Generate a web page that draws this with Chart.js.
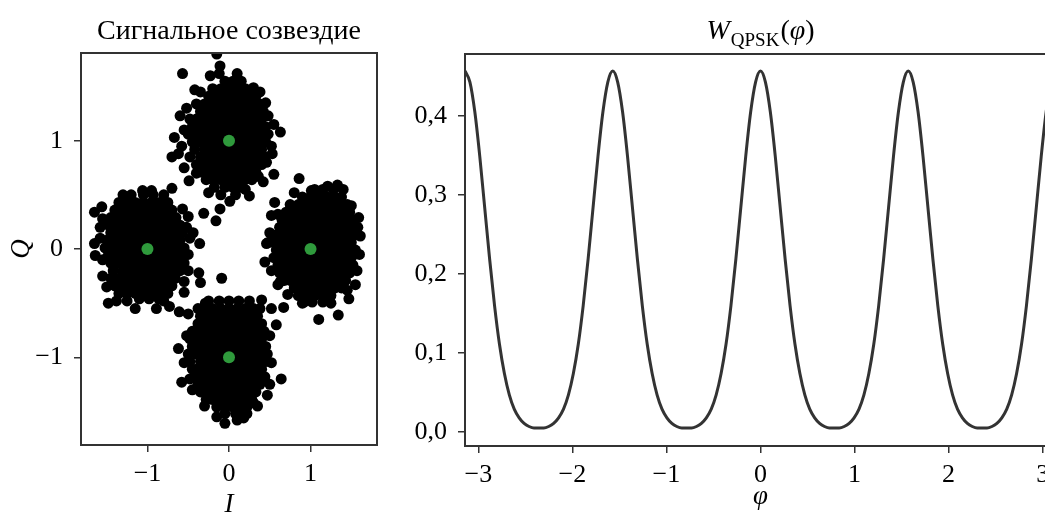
<!DOCTYPE html>
<html>
<head>
<meta charset="utf-8">
<script src="https://cdn.jsdelivr.net/npm/chart.js@4.4.1/dist/chart.umd.min.js"></script>
<style>
  html, body { margin: 0; padding: 0; background: #fff; overflow: hidden; width: 1045px; height: 515px; }
  #constellation { position: absolute; left: 0; top: 0; }
  #density { position: absolute; left: 400px; top: 0; }
</style>
</head>
<body>
<canvas id="constellation" width="400" height="515"></canvas>
<canvas id="density" width="680" height="515"></canvas>
<script>
// ---- Constellation: ideal QPSK symbols ----
const idealSymbols = [[1, 0], [0, 1], [-1, 0], [0, -1]];

// Received samples, dense core of each cloud, row by row: [Q, [I ...]]
const upperRows = [
  [1.55, [-0.05, 0.05, 0.15]],
  [1.48, [-0.20, -0.10, 0.00, 0.10, 0.20]],
  [1.41, [-0.25, -0.15, -0.05, 0.05, 0.15, 0.25, 0.33]],
  [1.34, [-0.40, -0.30, -0.20, -0.10, 0.00, 0.10, 0.20, 0.30, 0.38]],
  [1.27, [-0.35, -0.25, -0.15, -0.05, 0.05, 0.15, 0.25, 0.35, 0.42]],
  [1.20, [-0.48, -0.40, -0.30, -0.20, -0.10, 0.00, 0.10, 0.20, 0.30, 0.40]],
  [1.13, [-0.45, -0.35, -0.25, -0.15, -0.05, 0.05, 0.15, 0.25, 0.35, 0.45]],
  [1.06, [-0.50, -0.40, -0.30, -0.20, -0.10, 0.00, 0.10, 0.20, 0.30, 0.40, 0.48]],
  [0.99, [-0.45, -0.35, -0.25, -0.15, -0.05, 0.05, 0.15, 0.25, 0.35, 0.45]],
  [0.92, [-0.42, -0.30, -0.20, -0.10, 0.00, 0.10, 0.20, 0.30, 0.40]],
  [0.85, [-0.48, -0.35, -0.25, -0.15, -0.05, 0.05, 0.15, 0.25, 0.35, 0.44]],
  [0.78, [-0.40, -0.30, -0.20, -0.10, 0.00, 0.10, 0.20, 0.30, 0.40]],
  [0.71, [-0.35, -0.25, -0.15, -0.05, 0.05, 0.15, 0.25, 0.33]],
  [0.64, [-0.28, -0.20, -0.10, 0.00, 0.10, 0.20, 0.28]],
  [0.57, [-0.18, -0.05, 0.05, 0.15]],
  [0.50, [-0.10, 0.08]]
];
const leftRows = [
  [0.50, [-1.20, -1.05, -0.93]],
  [0.43, [-1.35, -1.25, -1.15, -1.05, -0.95, -0.85, -0.75]],
  [0.36, [-1.40, -1.30, -1.20, -1.10, -1.00, -0.90, -0.80, -0.70]],
  [0.29, [-1.45, -1.35, -1.25, -1.15, -1.05, -0.95, -0.85, -0.75, -0.65]],
  [0.22, [-1.48, -1.40, -1.30, -1.20, -1.10, -1.00, -0.90, -0.80, -0.70, -0.60]],
  [0.15, [-1.45, -1.35, -1.25, -1.15, -1.05, -0.95, -0.85, -0.75, -0.65, -0.57]],
  [0.08, [-1.50, -1.40, -1.30, -1.20, -1.10, -1.00, -0.90, -0.80, -0.70, -0.60]],
  [0.01, [-1.52, -1.45, -1.35, -1.25, -1.15, -1.05, -0.95, -0.85, -0.75, -0.65, -0.55]],
  [-0.06, [-1.48, -1.40, -1.30, -1.20, -1.10, -1.00, -0.90, -0.80, -0.70, -0.60]],
  [-0.13, [-1.45, -1.35, -1.25, -1.15, -1.05, -0.95, -0.85, -0.75, -0.65, -0.55]],
  [-0.20, [-1.42, -1.30, -1.20, -1.10, -1.00, -0.90, -0.80, -0.70, -0.60]],
  [-0.27, [-1.45, -1.35, -1.25, -1.15, -1.05, -0.95, -0.85, -0.75, -0.66]],
  [-0.34, [-1.40, -1.30, -1.20, -1.10, -1.00, -0.90, -0.80, -0.70]],
  [-0.41, [-1.35, -1.25, -1.15, -1.05, -0.95, -0.85, -0.75]],
  [-0.46, [-1.10, -0.98, -0.86]]
];
const rightRows = [
  [0.55, [1.05, 1.15, 1.28]],
  [0.48, [0.90, 1.00, 1.10, 1.20, 1.30, 1.38]],
  [0.41, [0.75, 0.85, 0.95, 1.05, 1.15, 1.25, 1.35, 1.45]],
  [0.34, [0.70, 0.80, 0.90, 1.00, 1.10, 1.20, 1.30, 1.40, 1.48]],
  [0.27, [0.65, 0.75, 0.85, 0.95, 1.05, 1.15, 1.25, 1.35, 1.45, 1.52]],
  [0.20, [0.62, 0.70, 0.80, 0.90, 1.00, 1.10, 1.20, 1.30, 1.40, 1.50]],
  [0.13, [0.58, 0.65, 0.75, 0.85, 0.95, 1.05, 1.15, 1.25, 1.35, 1.45, 1.54]],
  [0.06, [0.55, 0.60, 0.70, 0.80, 0.90, 1.00, 1.10, 1.20, 1.30, 1.40, 1.50]],
  [-0.01, [0.58, 0.65, 0.75, 0.85, 0.95, 1.05, 1.15, 1.25, 1.35, 1.45, 1.55]],
  [-0.08, [0.55, 0.62, 0.70, 0.80, 0.90, 1.00, 1.10, 1.20, 1.30, 1.40, 1.50]],
  [-0.15, [0.60, 0.65, 0.75, 0.85, 0.95, 1.05, 1.15, 1.25, 1.35, 1.45, 1.52]],
  [-0.22, [0.62, 0.70, 0.80, 0.90, 1.00, 1.10, 1.20, 1.30, 1.40, 1.48]],
  [-0.29, [0.68, 0.75, 0.85, 0.95, 1.05, 1.15, 1.25, 1.35, 1.43]],
  [-0.36, [0.80, 0.90, 1.00, 1.10, 1.20, 1.30, 1.38]],
  [-0.43, [0.85, 0.95, 1.05, 1.15, 1.25]],
  [-0.49, [0.92, 1.02, 1.15]]
];
const lowerRows = [
  [-0.48, [-0.25, -0.12, 0.00, 0.12, 0.25]],
  [-0.55, [-0.30, -0.20, -0.10, 0.00, 0.10, 0.20, 0.30]],
  [-0.62, [-0.35, -0.25, -0.15, -0.05, 0.05, 0.15, 0.25, 0.35]],
  [-0.69, [-0.38, -0.30, -0.20, -0.10, 0.00, 0.10, 0.20, 0.30, 0.40]],
  [-0.76, [-0.45, -0.35, -0.25, -0.15, -0.05, 0.05, 0.15, 0.25, 0.35, 0.43]],
  [-0.83, [-0.48, -0.40, -0.30, -0.20, -0.10, 0.00, 0.10, 0.20, 0.30, 0.40]],
  [-0.90, [-0.45, -0.35, -0.25, -0.15, -0.05, 0.05, 0.15, 0.25, 0.35, 0.45]],
  [-0.97, [-0.50, -0.40, -0.30, -0.20, -0.10, 0.00, 0.10, 0.20, 0.30, 0.40, 0.47]],
  [-1.04, [-0.48, -0.35, -0.25, -0.15, -0.05, 0.05, 0.15, 0.25, 0.35, 0.45]],
  [-1.11, [-0.45, -0.40, -0.30, -0.20, -0.10, 0.00, 0.10, 0.20, 0.30, 0.40]],
  [-1.18, [-0.42, -0.35, -0.25, -0.15, -0.05, 0.05, 0.15, 0.25, 0.35, 0.44]],
  [-1.25, [-0.38, -0.30, -0.20, -0.10, 0.00, 0.10, 0.20, 0.30, 0.38]],
  [-1.32, [-0.35, -0.25, -0.15, -0.05, 0.05, 0.15, 0.25, 0.33]],
  [-1.39, [-0.28, -0.20, -0.10, 0.00, 0.10, 0.20, 0.28]],
  [-1.46, [-0.15, -0.05, 0.05, 0.15, 0.22]],
  [-1.52, [-0.05, 0.08, 0.18]]
];

// Scattered samples around the clouds: [I, Q]
const upperStray = [
  [-0.15, 1.80], [-0.11, 1.69], [-0.57, 1.62], [-0.23, 1.60], [-0.42, 1.47], [0.30, 1.49],
  [-0.60, 1.23], [0.48, 1.23], [0.63, 1.08], [-0.67, 1.03], [-0.70, 0.85], [-0.62, 0.88],
  [0.46, 0.80], [0.55, 0.69], [-0.49, 0.63], [0.25, 0.49], [0.01, 0.44], [-0.31, 0.33],
  [-0.11, 0.37], [-0.16, 0.26], [0.36, 0.67], [-0.55, 0.75], [0.52, 0.95],
  [-0.52, 1.30], [0.45, 1.35], [-0.55, 1.10], [0.55, 1.15], [-0.40, 0.70], [0.42, 0.62],
  [-0.35, 1.45], [0.38, 1.45], [-0.58, 0.95], [0.53, 0.88], [0.20, 0.55], [-0.25, 0.52],
  [0.10, 1.62], [-0.12, 1.62]
];
const leftStray = [
  [-1.65, 0.34], [-1.56, 0.39], [-1.65, 0.05], [-1.64, -0.06], [-1.48, -0.50], [-1.38, -0.48],
  [-1.15, -0.55], [-0.89, -0.55], [-0.73, -0.53], [-0.61, -0.58], [-1.06, 0.54], [-0.95, 0.54],
  [-0.70, 0.56], [-0.57, 0.37], [-0.44, 0.15], [-0.36, 0.05], [-0.37, -0.22], [-0.35, -0.31],
  [-0.09, -0.27], [-0.52, 0.20], [-0.50, -0.05], [-0.55, -0.40], [-1.55, -0.25], [-1.58, 0.20],
  [-1.55, 0.28], [-1.58, 0.10], [-1.55, -0.10], [-1.50, -0.35], [-0.50, 0.30], [-0.48, 0.10],
  [-0.50, -0.20], [-0.55, -0.30], [-1.30, 0.50], [-0.80, 0.50], [-1.25, -0.48], [-0.80, -0.48]
];
const rightStray = [
  [0.86, 0.65], [1.01, 0.54], [1.21, 0.58], [0.56, 0.43], [1.59, 0.29], [1.61, 0.12],
  [0.52, 0.31], [0.46, 0.05], [0.44, -0.12], [1.55, -0.33], [1.47, -0.46], [1.10, -0.65],
  [1.34, -0.61], [0.67, -0.54], [0.60, -0.33], [0.63, -0.30], [0.48, 0.06], [1.40, 0.55], [1.33, 0.59],
  [1.58, 0.20], [1.60, -0.05], [1.57, -0.20], [1.50, 0.40], [0.52, -0.20], [0.50, 0.15],
  [0.60, 0.32], [0.72, -0.42], [1.45, -0.38], [0.80, 0.52], [1.25, -0.50], [0.90, -0.50]
];
const lowerStray = [
  [-0.05, -1.61], [0.18, -1.56], [-0.62, -0.92], [-0.58, -1.23], [0.64, -1.20], [0.58, -0.70],
  [0.52, -0.55], [0.40, -0.47], [-0.29, -0.50], [0.42, -0.92], [0.47, -1.35], [0.22, -1.52],
  [-0.50, -0.60], [0.35, -1.45], [-0.45, -1.30],
  [-0.52, -0.80], [0.50, -0.80], [-0.55, -1.05], [0.52, -1.05], [-0.48, -1.20], [0.50, -1.25],
  [-0.38, -0.55], [0.38, -0.55], [-0.30, -1.45], [0.30, -1.42], [-0.15, -1.55], [0.10, -1.58]
];

const iqTicks = [-1, 0, 1];

// ---- Phase density W_QPSK(phi) ----
const phiDeg = [
  -180, -177, -174, -171, -168, -165, -162, -159, -156, -153, -150, -147, -144, -141, -138,
  -135, -132, -129, -126, -123, -120, -117, -114, -111, -108, -105, -102, -99, -96, -93,
  -90, -87, -84, -81, -78, -75, -72, -69, -66, -63, -60, -57, -54, -51, -48,
  -45, -42, -39, -36, -33, -30, -27, -24, -21, -18, -15, -12, -9, -6, -3,
  0, 3, 6, 9, 12, 15, 18, 21, 24, 27, 30, 33, 36, 39, 42,
  45, 48, 51, 54, 57, 60, 63, 66, 69, 72, 75, 78, 81, 84, 87,
  90, 93, 96, 99, 102, 105, 108, 111, 114, 117, 120, 123, 126, 129, 132,
  135, 138, 141, 144, 147, 150, 153, 156, 159, 162, 165, 168, 171, 174, 177,
  180
];
const wValues = [
  0.457, 0.443, 0.405, 0.349, 0.284, 0.219, 0.160, 0.111, 0.074, 0.047, 0.029, 0.018, 0.011, 0.007, 0.005,
  0.005, 0.005, 0.007, 0.011, 0.018, 0.029, 0.047, 0.074, 0.111, 0.160, 0.219, 0.284, 0.349, 0.405, 0.443,
  0.457, 0.443, 0.405, 0.349, 0.284, 0.219, 0.160, 0.111, 0.074, 0.047, 0.029, 0.018, 0.011, 0.007, 0.005,
  0.005, 0.005, 0.007, 0.011, 0.018, 0.029, 0.047, 0.074, 0.111, 0.160, 0.219, 0.284, 0.349, 0.405, 0.443,
  0.457, 0.443, 0.405, 0.349, 0.284, 0.219, 0.160, 0.111, 0.074, 0.047, 0.029, 0.018, 0.011, 0.007, 0.005,
  0.005, 0.005, 0.007, 0.011, 0.018, 0.029, 0.047, 0.074, 0.111, 0.160, 0.219, 0.284, 0.349, 0.405, 0.443,
  0.457, 0.443, 0.405, 0.349, 0.284, 0.219, 0.160, 0.111, 0.074, 0.047, 0.029, 0.018, 0.011, 0.007, 0.005,
  0.005, 0.005, 0.007, 0.011, 0.018, 0.029, 0.047, 0.074, 0.111, 0.160, 0.219, 0.284, 0.349, 0.405, 0.443,
  0.457
];
const phiTicks = [-3, -2, -1, 0, 1, 2, 3];
const wTicks = [0, 0.1, 0.2, 0.3, 0.4];
const wTickLabels = ['0,0', '0,1', '0,2', '0,3', '0,4'];

// ---- styling helpers ----
const SERIF = '"Liberation Serif", "DejaVu Serif", serif';
const INK = '#000';
const SPINE = '#333';
const minus = v => (v < 0 ? '\u2212' + Math.abs(v) : String(v));

const frame = {
  id: 'frame',
  afterDraw(chart) {
    const { ctx, chartArea: a } = chart;
    ctx.save();
    ctx.strokeStyle = SPINE;
    ctx.lineWidth = 2;
    ctx.strokeRect(a.left, a.top, a.right - a.left, a.bottom - a.top);
    ctx.restore();
  }
};

const panelTitle = {
  id: 'panelTitle',
  afterDraw(chart, args, opts) {
    const { ctx, chartArea: a } = chart;
    const parts = opts.parts || [];
    ctx.save();
    ctx.textBaseline = 'alphabetic';
    ctx.textAlign = 'left';
    ctx.fillStyle = INK;
    let total = 0;
    const widths = parts.map(p => { ctx.font = p.font; const w = ctx.measureText(p.text).width + (p.gap || 0); total += w; return w; });
    let x = (a.left + a.right) / 2 - total / 2;
    parts.forEach((p, i) => {
      ctx.font = p.font;
      ctx.fillText(p.text, x, opts.baseline + (p.dy || 0));
      x += widths[i];
    });
    ctx.restore();
  }
};

function tickAxis(opts) {
  return {
    type: 'linear',
    min: opts.min,
    max: opts.max,
    afterBuildTicks: s => { s.ticks = opts.ticks.map(v => ({ value: v })); },
    afterFit: s => { if (opts.width !== undefined) s.width = opts.width; if (opts.height !== undefined) s.height = opts.height; },
    grid: { display: true, drawOnChartArea: false, drawTicks: true, tickLength: 7, tickWidth: 1.5, tickColor: SPINE, lineWidth: 1.5, color: SPINE },
    border: { display: false },
    ticks: {
      autoSkip: false, maxRotation: 0, minRotation: 0,
      padding: opts.padding, color: INK,
      font: { family: SERIF, size: 26 },
      callback: opts.label
    },
    title: opts.title ? {
      display: true, text: opts.title, color: INK,
      font: { family: SERIF, size: 27, style: 'italic', lineHeight: 1 },
      padding: opts.titlePadding
    } : { display: false }
  };
}

// ---- left panel: constellation ----
const samples = [];
[upperRows, leftRows, rightRows, lowerRows].forEach(rows =>
  rows.forEach(([q, is]) => is.forEach(i => samples.push({ x: i, y: q }))));
[upperStray, leftStray, rightStray, lowerStray].forEach(list =>
  list.forEach(([i, q]) => samples.push({ x: i, y: q })));

new Chart(document.getElementById('constellation'), {
  type: 'scatter',
  data: {
    datasets: [
      { data: idealSymbols.map(([i, q]) => ({ x: i, y: q })), backgroundColor: '#2f9a3c', borderWidth: 0, pointRadius: 6, pointHoverRadius: 6, order: 0, clip: 0 },
      { data: samples, backgroundColor: '#000', borderWidth: 0, pointRadius: 5.5, pointHoverRadius: 5.5, order: 1, clip: 0 }
    ]
  },
  options: {
    responsive: false, animation: false, devicePixelRatio: 1,
    layout: { padding: { left: 0, top: 53, right: 23, bottom: 0 } },
    plugins: {
      legend: { display: false }, tooltip: { enabled: false },
      panelTitle: { baseline: 39, parts: [{ text: 'Сигнальное созвездие', font: '28px ' + SERIF }] }
    },
    scales: {
      x: tickAxis({ min: -1.815, max: 1.815, ticks: iqTicks, label: v => minus(v), padding: 7, height: 70, title: 'I', titlePadding: { top: 0, bottom: -3 } }),
      y: tickAxis({ min: -1.81, max: 1.81, ticks: iqTicks, label: v => minus(v), padding: 11, width: 81, title: 'Q', titlePadding: { top: 8, bottom: 0 } })
    }
  },
  plugins: [frame, panelTitle]
});

// ---- right panel: phase density ----
new Chart(document.getElementById('density'), {
  type: 'scatter',
  data: {
    datasets: [{
      data: phiDeg.map((d, k) => ({ x: d * Math.PI / 180, y: wValues[k] })),
      showLine: true, borderColor: '#333', borderWidth: 3, pointRadius: 0, pointHoverRadius: 0,
      cubicInterpolationMode: 'monotone', fill: false, clip: 0
    }]
  },
  options: {
    responsive: false, animation: false, devicePixelRatio: 1,
    layout: { padding: { left: 0, top: 54, right: 24, bottom: 0 } },
    plugins: {
      legend: { display: false }, tooltip: { enabled: false },
      panelTitle: {
        baseline: 39,
        parts: [
          { text: 'W', font: 'italic 28px ' + SERIF, gap: 1 },
          { text: 'QPSK', font: '19px ' + SERIF, dy: 7, gap: 1 },
          { text: '(', font: '28px ' + SERIF },
          { text: 'φ', font: 'italic 28px ' + SERIF },
          { text: ')', font: '28px ' + SERIF }
        ]
      }
    },
    scales: {
      x: tickAxis({ min: -Math.PI, max: Math.PI, ticks: phiTicks, label: v => minus(v), padding: 7, height: 69, title: 'φ', titlePadding: { top: 0, bottom: 5 } }),
      y: tickAxis({ min: -0.0177, max: 0.4785, ticks: wTicks, label: (v, i) => wTickLabels[i], padding: 11, width: 65 })
    }
  },
  plugins: [frame, panelTitle]
});
</script>
</body>
</html>
